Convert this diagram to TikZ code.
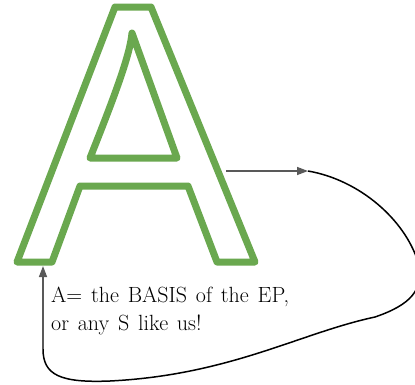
\documentclass[tikz,border=0pt]{standalone}
\usetikzlibrary{arrows.meta}
\definecolor{leafgreen}{HTML}{6AA84F}
\definecolor{arrowgrey}{HTML}{595959}
\newcommand{\basisfont}{\fontsize{22}{27.5}\selectfont\spaceskip=0.4em plus 0.1em\relax}
\begin{document}
\begin{tikzpicture}[x=1pt,y=-1pt,
  letterline/.style={draw=leafgreen,line width=7pt,line join=round},
  greyarrow/.style={draw=arrowgrey,line width=1.4pt,-{Triangle[length=11pt,width=8pt]}},
  loopline/.style={draw=black,line width=1.5pt}]
\useasboundingbox (0,0) rectangle (415,384);
\clip (0,0) rectangle (415,384);
% outer outline of the letter
\draw[letterline] (115,7) -- (151,7) -- (255,262) -- (217,262) -- (188,186)
  -- (80,186) -- (52,262) -- (17,262) -- cycle;
% inner triangle
\draw[letterline] (132,33) -- (177,158) -- (90,158)
  .. controls (115,95) and (130,55) .. cycle;
% text
\node[anchor=north west,inner sep=0pt,align=left,font=\basisfont]
  (basis) at (51,287) {A= the BASIS of the EP,\\or any S like us!};
% loop back to the letter
\coordinate (rightout) at (226,171);
\coordinate (loopstart) at (308,171);
\coordinate (loopend) at (43,349);
\coordinate (leftin) at (43,266);
\draw[greyarrow] (rightout) -- (loopstart);
\draw[loopline] (loopstart) .. controls (360,180) and (405,220) .. (418,262)
  .. controls (425,290) and (410,305) .. (375,317)
  .. controls (300,333) and (230,375) .. (110,381)
  .. controls (60,383) and (43,375) .. (loopend);
\draw[greyarrow] (loopend) -- (leftin);
\end{tikzpicture}
\end{document}
